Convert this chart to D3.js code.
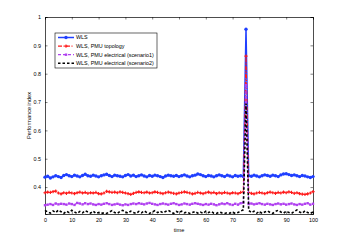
<!DOCTYPE html>
<html>
<head>
<meta charset="utf-8">
<script src="https://cdn.jsdelivr.net/npm/d3@7"></script>
<style>
  body { margin: 0; background: #fff; }
  svg { display: block; font-family: "Liberation Sans", Arial, sans-serif; }
</style>
</head>
<body>
<svg id="chart" width="346" height="242"></svg>
<script>
// data (t = 0..100)
const xTicks = [0, 10, 20, 30, 40, 50, 60, 70, 80, 90, 100];
const yTicks = [0.4, 0.5, 0.6, 0.7, 0.8, 0.9, 1];
const seriesNames = ["WLS", "WLS, PMU topology", "WLS, PMU electrical (scenario1)", "WLS, PMU electrical (scenario2)"];

const wls = [
  0.435,0.438,0.432,0.436,0.440,0.437,0.434,0.441,0.444,0.440,0.437,0.442,0.439,0.436,0.441,0.445,0.440,0.438,0.442,0.439,
  0.436,0.440,0.443,0.445,0.441,0.437,0.442,0.440,0.438,0.436,0.441,0.444,0.439,0.442,0.437,0.440,0.443,0.439,0.436,0.441,
  0.438,0.442,0.440,0.437,0.434,0.439,0.442,0.440,0.438,0.441,0.437,0.440,0.443,0.439,0.436,0.440,0.442,0.446,0.444,0.440,
  0.437,0.441,0.439,0.436,0.440,0.443,0.440,0.437,0.442,0.439,0.436,0.441,0.438,0.440,0.437,0.957,0.440,0.438,0.442,0.439,
  0.436,0.440,0.443,0.441,0.438,0.442,0.440,0.437,0.443,0.446,0.447,0.444,0.441,0.443,0.440,0.437,0.441,0.439,0.436,0.434,0.437
];
const pmuTopology = [
  0.380,0.382,0.381,0.384,0.386,0.379,0.376,0.380,0.378,0.381,0.379,0.377,0.380,0.382,0.379,0.381,0.378,0.380,0.379,0.381,
  0.377,0.376,0.379,0.385,0.383,0.381,0.382,0.380,0.383,0.381,0.379,0.377,0.374,0.378,0.381,0.383,0.381,0.380,0.382,0.379,
  0.380,0.383,0.381,0.379,0.377,0.380,0.382,0.380,0.378,0.376,0.379,0.381,0.383,0.381,0.379,0.376,0.378,0.381,0.379,0.377,
  0.380,0.382,0.379,0.381,0.377,0.380,0.378,0.381,0.379,0.377,0.380,0.379,0.377,0.381,0.383,0.862,0.381,0.378,0.376,0.379,
  0.381,0.379,0.377,0.380,0.382,0.380,0.378,0.381,0.379,0.382,0.380,0.383,0.381,0.378,0.380,0.377,0.375,0.374,0.376,0.379,0.384
];
const pmuElec1 = [
  0.336,0.338,0.340,0.337,0.342,0.339,0.341,0.340,0.338,0.342,0.340,0.337,0.344,0.342,0.339,0.343,0.340,0.342,0.339,0.337,
  0.340,0.338,0.341,0.343,0.340,0.337,0.339,0.341,0.338,0.336,0.339,0.337,0.340,0.342,0.340,0.343,0.341,0.339,0.342,0.344,
  0.341,0.339,0.337,0.340,0.342,0.340,0.338,0.341,0.343,0.340,0.337,0.339,0.342,0.340,0.338,0.341,0.343,0.341,0.339,0.337,
  0.340,0.338,0.341,0.339,0.336,0.339,0.342,0.340,0.343,0.339,0.337,0.341,0.338,0.343,0.345,0.760,0.340,0.342,0.339,0.341,
  0.343,0.340,0.338,0.341,0.339,0.337,0.340,0.342,0.339,0.341,0.338,0.340,0.342,0.339,0.337,0.340,0.338,0.341,0.343,0.338,0.341
];
const pmuElec2 = [
  0.318,0.312,0.308,0.316,0.310,0.319,0.313,0.307,0.315,0.310,0.318,0.312,0.307,0.314,0.309,0.317,0.312,0.308,0.315,0.307,
  0.310,0.307,0.309,0.307,0.312,0.317,0.310,0.307,0.314,0.318,0.312,0.308,0.315,0.310,0.307,0.314,0.309,0.316,0.310,0.307,
  0.312,0.317,0.310,0.315,0.309,0.314,0.318,0.312,0.307,0.314,0.310,0.315,0.309,0.312,0.307,0.310,0.314,0.308,0.312,0.307,
  0.315,0.310,0.314,0.308,0.307,0.312,0.309,0.307,0.310,0.308,0.312,0.307,0.310,0.315,0.320,0.695,0.318,0.310,0.315,0.308,
  0.314,0.307,0.312,0.316,0.310,0.307,0.314,0.318,0.312,0.308,0.315,0.310,0.307,0.314,0.319,0.312,0.308,0.316,0.310,0.307,0.312
];

const styles = [
  { color: "#1f3fff", width: 1.5, dash: null,          marker: "star" },
  { color: "#ff1a1a", width: 1.2, dash: "4 1.5 1 1.5", marker: "plus" },
  { color: "#b040f0", width: 1.2, dash: "3 2",         marker: "dot" },
  { color: "#000000", width: 1.6, dash: "2.5 2",       marker: null }
];
const series = [wls, pmuTopology, pmuElec1, pmuElec2];

const margin = { top: 17, right: 33, bottom: 28, left: 45 };
const W = 346, H = 242;
const w = W - margin.left - margin.right;
const h = H - margin.top - margin.bottom;

const svg = d3.select("#chart");
const g = svg.append("g").attr("transform", `translate(${margin.left},${margin.top})`);

const x = d3.scaleLinear().domain([0, 100]).range([0, w]);
const y = d3.scaleLinear().domain([0.305, 1]).range([h, 0]);

// axes box with inward ticks on all four sides
const fmtY = d => (d === 1 ? "1" : d3.format(".1f")(d));
const axB = g.append("g").attr("transform", `translate(0,${h})`)
  .call(d3.axisBottom(x).tickValues(xTicks).tickSize(-2.5).tickPadding(4));
const axT = g.append("g")
  .call(d3.axisTop(x).tickValues(xTicks).tickSize(-2.5).tickFormat(""));
const axL = g.append("g")
  .call(d3.axisLeft(y).tickValues(yTicks).tickSize(-2.5).tickPadding(4).tickFormat(fmtY));
const axR = g.append("g").attr("transform", `translate(${w},0)`)
  .call(d3.axisRight(y).tickValues(yTicks).tickSize(-2.5).tickFormat(""));

[axB, axT, axL, axR].forEach(a => {
  a.selectAll(".domain").attr("stroke", "#000").attr("stroke-width", 0.7);
  a.selectAll(".tick line").attr("stroke", "#000").attr("stroke-width", 0.5);
  a.selectAll("text").attr("font-size", 5.4).attr("fill", "#000");
});

// lines
const line = d3.line().x((d, i) => x(i)).y(d => y(d));
const plotG = g.append("g");

series.forEach((vals, k) => {
  const st = styles[k];
  plotG.append("path")
    .datum(vals)
    .attr("fill", "none")
    .attr("stroke", st.color)
    .attr("stroke-width", st.width)
    .attr("stroke-dasharray", st.dash)
    .attr("d", line);
  drawMarkers(plotG, vals.map((v, i) => [x(i), y(v)]), st);
});

function drawMarkers(sel, pts, st) {
  if (!st.marker) return;
  const mg = sel.append("g");
  pts.forEach(([px, py]) => {
    if (st.marker === "dot") {
      mg.append("rect").attr("x", px - 1.2).attr("y", py - 1.2).attr("width", 2.4).attr("height", 2.4)
        .attr("fill", st.color);
    } else if (st.marker === "star") {
      mg.append("circle").attr("cx", px).attr("cy", py).attr("r", 1.7).attr("fill", st.color);
    } else {
      mg.append("path").attr("d", `M${px - 1.6},${py}H${px + 1.6}M${px},${py - 1.6}V${py + 1.6}`)
        .attr("stroke", st.color).attr("stroke-width", 1.1);
    }
  });
}

// labels
svg.append("text")
  .attr("x", margin.left + w / 2).attr("y", 232)
  .attr("text-anchor", "middle").attr("font-size", 5.6).text("time");
svg.append("text")
  .attr("transform", `translate(31,${margin.top + h / 2}) rotate(-90)`)
  .attr("text-anchor", "middle").attr("font-size", 5.6).text("Performance index");

// legend
const lg = svg.append("g").attr("transform", "translate(55,33)");
lg.append("rect").attr("width", 102).attr("height", 35)
  .attr("fill", "#fff").attr("stroke", "#000").attr("stroke-width", 0.6);
seriesNames.forEach((name, k) => {
  const st = styles[k];
  const ly = 4.5 + k * 8.6;
  lg.append("line").attr("x1", 3).attr("x2", 19).attr("y1", ly).attr("y2", ly)
    .attr("stroke", st.color).attr("stroke-width", st.width).attr("stroke-dasharray", st.dash);
  drawMarkers(lg, [[11, ly]], st);
  lg.append("text").attr("x", 21).attr("y", ly).attr("dy", "0.35em")
    .attr("font-size", 5.4).text(name);
});
</script>
</body>
</html>
